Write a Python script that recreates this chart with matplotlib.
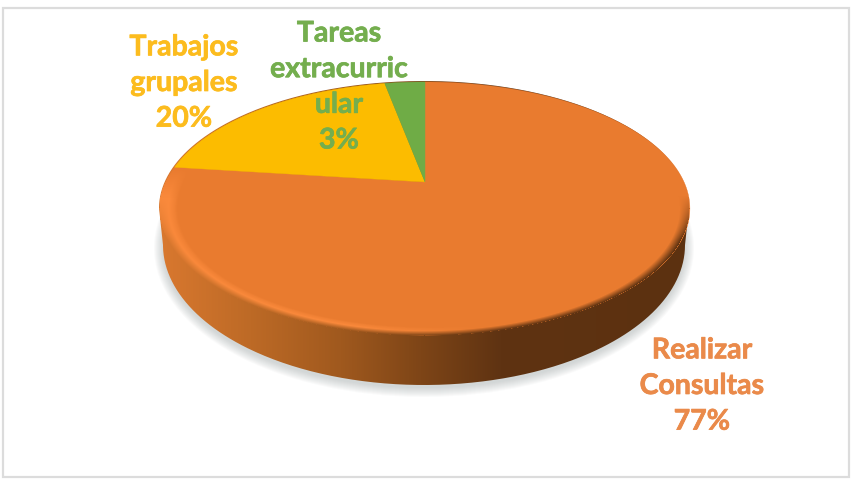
"""Tilted pie with a bevelled rim, drawn in pixel coordinates."""
import numpy as np
import matplotlib.pyplot as plt
import matplotlib.patheffects as pe
from matplotlib.colors import to_rgb
from matplotlib.patches import Ellipse, PathPatch, Polygon, Rectangle
from matplotlib.path import Path

categories = ["Realizar\nConsultas", "Trabajos\ngrupales", "Tareas\nextracurric\nular"]
shares = [77, 20, 3]
slice_colors = ["#E97B2F", "#FCBC00", "#6FAC46"]
text_colors = ["#EA8A4A", "#FCBC1E", "#74AE4E"]
label_pos = [(702, 386), (184, 83), (339, 87)]

# top face: circle seen in perspective, apex sits above the ellipse centre
APEX = (425, 182)
A, B, K = 259.0, 121.0, 0.2095
TOP = (424, 208, 265, 127)
BOTTOM = (424, 245, 261, 140)

plt.rcParams["font.family"] = ["Lato", "DejaVu Sans"]
fig = plt.figure(figsize=(8.64, 4.84), dpi=100)
ax = fig.add_axes([0, 0, 1, 1])


def project(theta, r=1.0):
    """theta runs clockwise from twelve o'clock, in radians."""
    u, v = r * np.sin(theta), r * np.cos(theta)
    w = 1 + K * v
    return APEX[0] + A * u / w, APEX[1] - B * v / w


def ellipse_pts(e, t0=0.0, t1=2 * np.pi, n=300):
    t = np.linspace(t0, t1, n)
    return np.column_stack([e[0] + e[2] * np.cos(t), e[1] + e[3] * np.sin(t)])


ax.add_patch(Rectangle((2.5, 7.5), 846, 469, facecolor="white",
                       edgecolor="#dcdcdc", linewidth=1.6))

# soft shadow under the disc
for i in range(10):
    ax.add_patch(Ellipse((BOTTOM[0], BOTTOM[1] + 3), 2 * (BOTTOM[2] + i),
                         2 * (BOTTOM[3] + i), facecolor="#8f9999",
                         edgecolor="none", alpha=0.045))

# side wall: horizontal gradient clipped to the disc silhouette
wall_x = [160, 250, 340, 420, 500, 690]
wall_c = np.array([to_rgb(c) for c in
                   ["#d9782f", "#bd6a26", "#a0591e", "#7e4517", "#5f3312", "#5c3110"]])
xs = np.arange(150, 700)
wall_row = np.column_stack([np.interp(xs, wall_x, wall_c[:, i]) for i in range(3)])
wall_img = ax.imshow(wall_row[np.newaxis, :, :], extent=(150, 700, 400, 70),
                     aspect="auto", zorder=2)
outline = np.vstack([ellipse_pts(BOTTOM, 0, np.pi), ellipse_pts(TOP, np.pi, 2 * np.pi)])
clip = PathPatch(Path(np.vstack([outline, outline[:1]])), transform=ax.transData,
                 facecolor="none", edgecolor="none")
ax.add_patch(clip)
wall_img.set_clip_path(clip)

# slices, clockwise from the top
edges = np.cumsum([0] + shares) / sum(shares) * 2 * np.pi
for k, color in enumerate(slice_colors):
    t = np.linspace(edges[k], edges[k + 1], 240)
    px, py = project(t)
    pts = np.vstack([[APEX], np.column_stack([px, py])])
    ax.add_patch(Polygon(pts, closed=True, facecolor=color, edgecolor=color,
                         linewidth=0.3, zorder=3))

# bevel between the face and the wall; the highlight only shows on the lit left side
yy, xx = np.mgrid[60:345, 150:700]
s = np.hypot((xx - TOP[0]) / TOP[2], (yy - TOP[1]) / TOP[3])
band = np.clip((s - 0.925) / 0.075, 0, 1)
face = np.array(to_rgb(slice_colors[0]))
light = np.array(to_rgb("#fb8a3c"))
wall_at = wall_row[xx - 150]
lit = np.clip((480 - xx) / 120.0, 0, 1)[..., None]
mid = np.clip(band / 0.55, 0, 1)[..., None] * lit
low = (np.clip((band - 0.5) / 0.5, 0, 1) * np.clip((yy - 195) / 45.0, 0, 1))[..., None]
rgb = (face * (1 - mid) + light * mid) * (1 - low) + wall_at * low
alpha = np.clip((yy - 168) / 30.0, 0, 1) * np.clip(band / 0.2, 0, 1) * (s <= 1.0)
bevel = np.dstack([rgb, alpha])
ax.imshow(bevel, extent=(150, 700, 345, 60), aspect="auto", zorder=4,
          interpolation="bilinear")

for name, share, color, (x, y) in zip(categories, shares, text_colors, label_pos):
    ax.text(x, y, f"{name}\n{share}%", color=color, fontsize=20.5, fontweight="bold",
            ha="center", va="center", linespacing=1.46, zorder=6,
            path_effects=[pe.withStroke(linewidth=0.5, foreground=color)])

ax.set_xlim(0, 864)
ax.set_ylim(484, 0)
ax.axis("off")
fig.savefig("out.png", dpi=100, facecolor="white")
